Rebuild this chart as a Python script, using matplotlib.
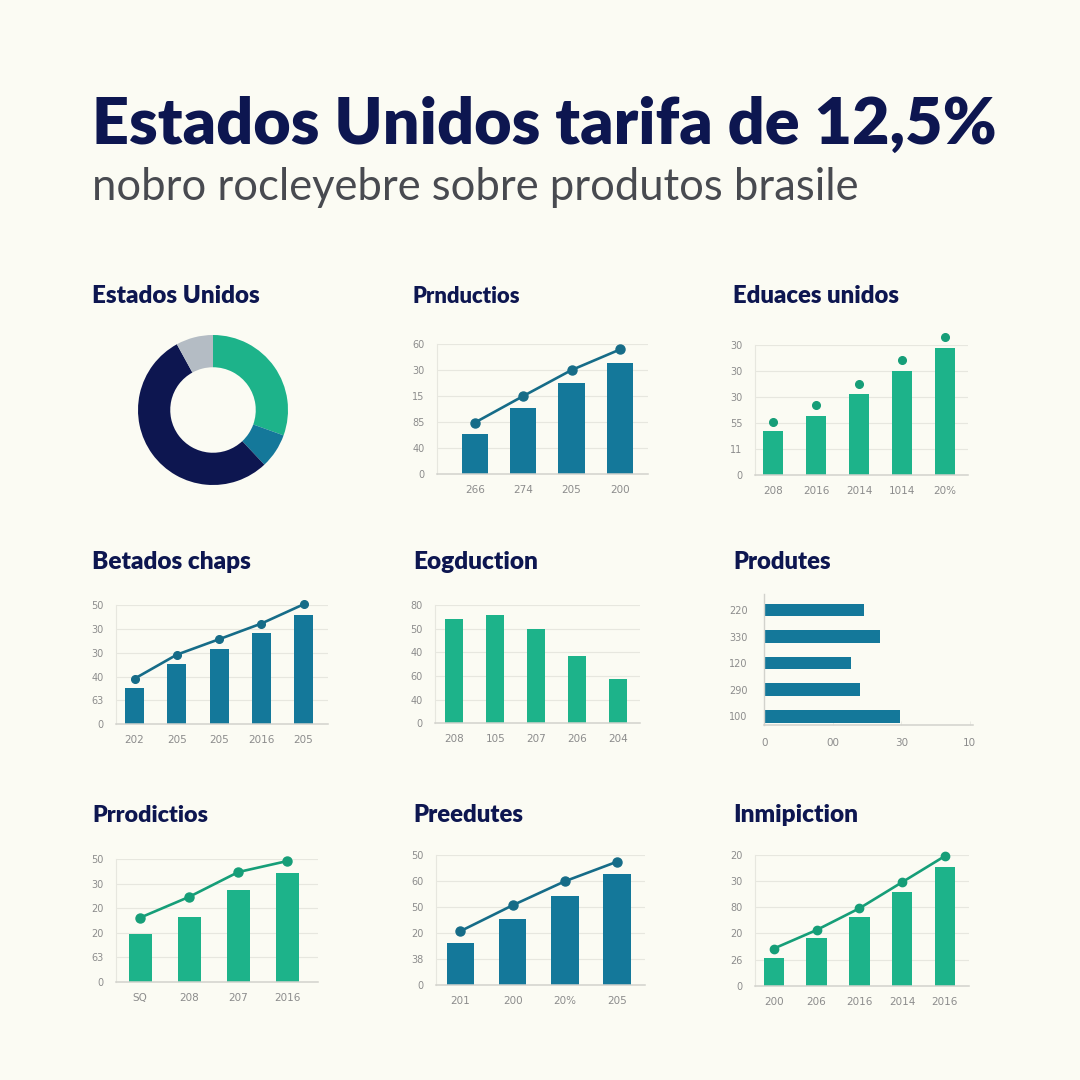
import matplotlib
matplotlib.use("Agg")
import matplotlib.pyplot as plt
import numpy as np

# ---------------- data ----------------
title_text = "Estados Unidos tarifa de 12,5%"
subtitle_text = "nobro rocleyebre sobre produtos brasile"

panel_titles = ["Estados Unidos", "Prnductios", "Eduaces unidos",
                "Betados chaps", "Eogduction", "Produtes",
                "Prrodictios", "Preedutes", "Inmipiction"]

donut_values = [30.5, 7.5, 54.0, 8.0]

p2_x = ["266", "274", "205", "200"]
p2_y = ["0", "40", "85", "15", "30", "60"]
p2_bars = [1.51, 2.51, 3.50, 4.27]
p2_line = [1.96, 2.98, 3.98, 4.77]

p3_x = ["208", "2016", "2014", "1014", "20%"]
p3_y = ["0", "11", "55", "30", "30", "30"]
p3_bars = [1.68, 2.28, 3.10, 4.01, 4.87]
p3_dots = [2.04, 2.68, 3.50, 4.41, 5.30]

p4_x = ["202", "205", "205", "2016", "205"]
p4_y = ["0", "63", "40", "30", "30", "50"]
p4_bars = [1.50, 2.53, 3.17, 3.83, 4.60]
p4_line = [1.91, 2.92, 3.57, 4.23, 5.04]

p5_x = ["208", "105", "207", "206", "204"]
p5_y = ["0", "40", "60", "40", "50", "80"]
p5_bars = [4.41, 4.59, 4.00, 2.85, 1.89]

p6_cats = ["220", "330", "120", "290", "100"]
p6_vals = [1.45, 1.69, 1.27, 1.40, 1.98]
p6_x = ["0", "00", "30", "10"]

p7_x = ["SQ", "208", "207", "2016"]
p7_y = ["0", "63", "20", "20", "30", "50"]
p7_bars = [1.96, 2.66, 3.75, 4.44]
p7_line = [2.62, 3.47, 4.48, 4.93]

p8_x = ["201", "200", "20%", "205"]
p8_y = ["0", "38", "20", "50", "60", "50"]
p8_bars = [1.61, 2.54, 3.44, 4.27]
p8_line = [2.08, 3.07, 3.99, 4.74]

p9_x = ["200", "206", "2016", "2014", "2016"]
p9_y = ["0", "26", "20", "80", "30", "20"]
p9_bars = [1.06, 1.83, 2.63, 3.57, 4.54]
p9_line = [1.42, 2.13, 2.96, 3.96, 4.96]

# ---------------- style ----------------
BG = "#FBFBF3"
NAVY = "#0D1650"
GREEN = "#1DB38A"
GREEN_D = "#169E78"
TEAL = "#14789A"
TEAL_D = "#166C88"
GRAYW = "#B4BCC4"
TICK = "#8C8C8C"
GRID = "#E7E7DF"
AXL = "#D2D2CC"

W = H = 1080
fig = plt.figure(figsize=(10.8, 10.8), dpi=100, facecolor=BG)
renderer = fig.canvas.get_renderer()


def fit_text(x, y_base, s, width_px, family, weight, color):
    t = fig.text(x / W, 1 - y_base / H, s, fontsize=20, family=family,
                 weight=weight, color=color, ha="left", va="baseline")
    bb = t.get_window_extent(renderer)
    t.set_fontsize(20 * width_px / bb.width)
    return t


fit_text(92, 144, title_text, 905, "Lato", "heavy", NAVY)
fit_text(92, 200, subtitle_text, 768, "Lato", "normal", "#484A50")

title_pos = [(92, 303, 168), (413, 303, 108), (733, 303, 166),
             (92, 569, 160), (413, 569, 125), (733, 569, 98),
             (92, 822, 116), (413, 822, 110), (733, 822, 126)]
for (x, yb, w), s in zip(title_pos, panel_titles):
    fit_text(x, yb, s, w, "Lato", "heavy", NAVY)


def px_axes(x0, x1, ytop, ybot):
    return fig.add_axes([x0 / W, 1 - ybot / H, (x1 - x0) / W, (ybot - ytop) / H])


def style_axes(ax, ylabels, xlabels):
    ax.set_facecolor("none")
    for s in ["top", "right"]:
        ax.spines[s].set_visible(False)
    ax.spines["left"].set_color(GRID)
    ax.spines["left"].set_linewidth(0.8)
    ax.spines["bottom"].set_color(AXL)
    ax.spines["bottom"].set_linewidth(1.1)
    ax.set_ylim(0, 5)
    ax.set_yticks(range(len(ylabels)))
    ax.set_yticklabels(ylabels)
    ax.set_xticks(range(len(xlabels)))
    ax.set_xticklabels(xlabels)
    ax.tick_params(axis="y", length=0, pad=9, labelsize=7, labelcolor=TICK)
    ax.tick_params(axis="x", length=0, pad=8, labelsize=7.5, labelcolor=TICK)
    for yv in range(1, 6):
        ax.axhline(yv, color=GRID, lw=0.8, zorder=0)


def bar_panel(rect, xlim, bars, width, color, ylabels, xlabels,
              line=None, line_color=None, dots=None, dot_color=None, ms=6.0):
    ax = px_axes(*rect)
    style_axes(ax, ylabels, xlabels)
    xs = np.arange(len(bars))
    ax.bar(xs, bars, width=width, color=color, zorder=2)
    if line is not None:
        ax.plot(xs, line, color=line_color, lw=1.9, marker="o", ms=ms,
                zorder=3, clip_on=False)
    if dots is not None:
        ax.plot(xs, dots, ls="none", color=dot_color, marker="o", ms=ms,
                zorder=3, clip_on=False)
    ax.set_xlim(*xlim)
    return ax


# Donut
cx, cy, r = 213, 410, 75
axd = fig.add_axes([(cx - r) / W, 1 - (cy + r) / H, 2 * r / W, 2 * r / H])
axd.pie(donut_values, colors=[GREEN, TEAL, NAVY, GRAYW], startangle=90,
        counterclock=False, radius=1, wedgeprops=dict(width=0.43, linewidth=0))
axd.set_xlim(-1, 1)
axd.set_ylim(-1, 1)
axd.set_aspect("equal")
axd.axis("off")

# row 1
bar_panel((437, 648, 343.5, 473.7), (-0.78, 3.58), p2_bars, 0.54, TEAL,
          p2_y, p2_x, line=p2_line, line_color=TEAL_D, ms=6.5)
bar_panel((755, 968, 345, 474.7), (-0.43, 4.54), p3_bars, 0.465, GREEN,
          p3_y, p3_x, dots=p3_dots, dot_color=GREEN_D, ms=5.5)
# row 2
bar_panel((116, 328, 605.3, 724), (-0.44, 4.58), p4_bars, 0.45, TEAL,
          p4_y, p4_x, line=p4_line, line_color=TEAL_D, ms=5.5)
bar_panel((435, 640, 605.3, 723.3), (-0.47, 4.53), p5_bars, 0.45, GREEN,
          p5_y, p5_x)

# hbar
axh = px_axes(764.3, 973.3, 594, 725)
axh.set_facecolor("none")
for s in ["top", "right"]:
    axh.spines[s].set_visible(False)
axh.spines["left"].set_color(AXL)
axh.spines["left"].set_linewidth(1.0)
axh.spines["bottom"].set_color(AXL)
axh.spines["bottom"].set_linewidth(1.1)
ys = np.arange(len(p6_vals))
axh.barh(ys, p6_vals, height=0.48, color=TEAL, zorder=2)
axh.set_ylim(4.33, -0.6)
axh.set_xlim(0, 3.05)
axh.set_yticks(ys)
axh.set_yticklabels(p6_cats)
axh.set_xticks(range(len(p6_x)))
axh.set_xticklabels(p6_x)
axh.tick_params(axis="y", length=0, pad=12, labelsize=7, labelcolor=TICK)
axh.tick_params(axis="x", length=3, width=0.6, color=GRID, pad=9,
                labelsize=7.5, labelcolor=TICK, direction="in")

# row 3
bar_panel((116, 318.3, 859.3, 982), (-0.49, 3.63), p7_bars, 0.47, GREEN,
          p7_y, p7_x, line=p7_line, line_color=GREEN_D, ms=6.5)
bar_panel((436, 645, 855, 985.3), (-0.47, 3.54), p8_bars, 0.53, TEAL,
          p8_y, p8_x, line=p8_line, line_color=TEAL_D, ms=6.5)
bar_panel((755, 969.3, 855, 985.7), (-0.44, 4.57), p9_bars, 0.48, GREEN,
          p9_y, p9_x, line=p9_line, line_color=GREEN_D, ms=6.0)

fig.savefig("out.png", dpi=100, facecolor=BG)
